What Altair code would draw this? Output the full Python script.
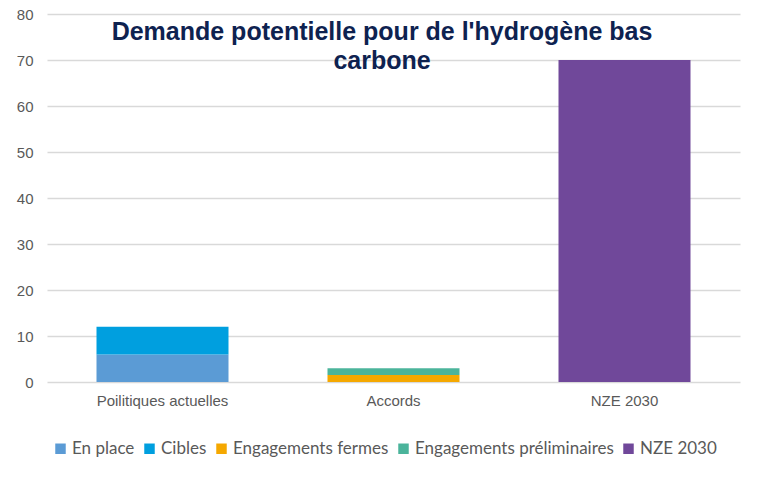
import altair as alt
import pandas as pd

categories = ["Poilitiques actuelles", "Poilitiques actuelles", "Accords", "Accords", "NZE 2030"]
segments = ["En place", "Cibles", "Engagements fermes", "Engagements préliminaires", "NZE 2030"]
values = [6, 6, 1.5, 1.5, 70]
seg_order = [0, 1, 2, 3, 4]

cat_domain = ["Poilitiques actuelles", "Accords", "NZE 2030"]
seg_domain = ["En place", "Cibles", "Engagements fermes", "Engagements préliminaires", "NZE 2030"]
seg_colors = ["#5B9BD5", "#009FDF", "#F5A800", "#4BB49B", "#70489A"]
title_text = "Demande potentielle pour de l'hydrogène bas\ncarbone"

df = pd.DataFrame({"cat": categories, "seg": segments, "val": values, "ord": seg_order})

bars = alt.Chart(df).mark_bar(size=132).encode(
    x=alt.X("cat:N", sort=cat_domain, scale=alt.Scale(domain=cat_domain, paddingInner=0.43, paddingOuter=0.215),
            axis=alt.Axis(title=None, labelAngle=0, ticks=False, domain=False, labelPadding=11,
                          labelFont="Liberation Sans", labelFontSize=15, labelColor="#595959")),
    y=alt.Y("val:Q", stack="zero", scale=alt.Scale(domain=[0, 80], nice=False),
            axis=alt.Axis(title=None, values=list(range(0, 81, 10)), ticks=False, domain=False,
                          labelPadding=14, labelFont="Liberation Sans", labelFontSize=15,
                          labelColor="#595959", gridColor="#D9D9D9", gridWidth=1.5)),
    color=alt.Color("seg:N", scale=alt.Scale(domain=seg_domain, range=seg_colors),
                    legend=alt.Legend(title=None, orient="none", legendX=5, legendY=426,
                                      direction="horizontal", symbolType="square", symbolSize=110,
                                      symbolStrokeWidth=0, labelFont="Lato",
                                      labelFontSize=17, labelColor="#595959", columnPadding=6,
                                      labelOffset=3, labelLimit=0)),
    order=alt.Order("ord:Q", sort="ascending"),
)

title = alt.Chart(pd.DataFrame({"t": [title_text]})).mark_text(
    font="Liberation Sans", fontSize=25, fontWeight="bold", color="#0E2250",
    align="center", baseline="alphabetic", lineBreak="\n", lineHeight=29,
).encode(text="t:N", x=alt.value(335), y=alt.value(26))

chart = alt.layer(bars, title).properties(
    width=693, height=368,
    autosize=alt.AutoSizeParams(type="none"),
    padding={"left": 39, "top": 6, "right": 16, "bottom": 80},
).configure_view(stroke=None)

chart.save("out.html", embed_options={"renderer": "svg", "actions": False})
